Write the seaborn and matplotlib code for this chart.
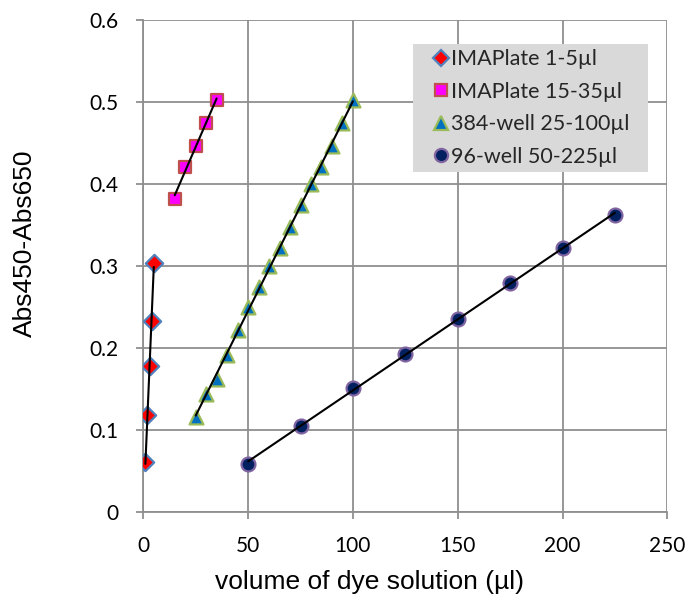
import numpy as np
import pandas as pd
import matplotlib
matplotlib.use("Agg")
import matplotlib.pyplot as plt
from matplotlib.lines import Line2D
from matplotlib.patches import Rectangle
import seaborn as sns

# Dilution series: dispensed volume (µl) and Abs450-Abs650
ima_small_vol = [1, 2, 3, 4, 5]
ima_small_abs = [0.061, 0.119, 0.178, 0.233, 0.304]

ima_large_vol = [15, 20, 25, 30, 35]
ima_large_abs = [0.382, 0.421, 0.447, 0.474, 0.503]

well384_vol = [25, 30, 35, 40, 45, 50, 55, 60, 65, 70, 75, 80, 85, 90, 95, 100]
well384_abs = [0.116, 0.144, 0.163, 0.192, 0.222, 0.250, 0.275, 0.300,
               0.322, 0.348, 0.375, 0.400, 0.421, 0.446, 0.474, 0.502]

well96_vol = [50, 75, 100, 125, 150, 175, 200, 225]
well96_abs = [0.059, 0.105, 0.151, 0.193, 0.236, 0.280, 0.322, 0.362]

series_names = ["IMAPlate 1-5µl", "IMAPlate 15-35µl",
                "384-well 25-100µl", "96-well 50-225µl"]

x_ticks = [0, 50, 100, 150, 200, 250]
y_ticks = [0, 0.1, 0.2, 0.3, 0.4, 0.5, 0.6]
y_tick_labels = ["0", "0.1", "0.2", "0.3", "0.4", "0.5", "0.6"]

sns.set_theme(style="white")
plt.rcParams["font.family"] = ["Lato", "DejaVu Sans"]

styles = [
    dict(marker="D", face="#ff0000", edge="#4f81bd", size=78),
    dict(marker="s", face="#ff00ff", edge="#c0504d", size=75),
    dict(marker="^", face="#0070c0", edge="#9bbb59", size=100),
    dict(marker="o", face="#002060", edge="#8064a2", size=100),
]
data = [
    (ima_small_vol, ima_small_abs),
    (ima_large_vol, ima_large_abs),
    (well384_vol, well384_abs),
    (well96_vol, well96_abs),
]

W, H = 688, 606
fig = plt.figure(figsize=(W / 100, H / 100), dpi=100)
ax = fig.add_axes([143.3 / W, 1 - 512.3 / H, (667.3 - 143.3) / W, (512.3 - 20) / H])

handles = []
for name, (vx, vy), st in zip(series_names, data, styles):
    df = pd.DataFrame({"vol": vx, "abs": vy})
    sns.scatterplot(data=df, x="vol", y="abs", ax=ax, marker=st["marker"],
                    s=st["size"], color=st["face"], edgecolor=st["edge"],
                    linewidth=1.6, zorder=3, legend=False)
    # least-squares trend line over the measured range
    sns.regplot(data=df, x="vol", y="abs", ax=ax, scatter=False, ci=None,
                truncate=True, line_kws=dict(color="black", lw=1.5, zorder=4))
    handles.append(Line2D([], [], linestyle="none", marker=st["marker"],
                          markerfacecolor=st["face"], markeredgecolor=st["edge"],
                          markeredgewidth=1.6, markersize=np.sqrt(st["size"]) * 0.95,
                          label=name))

grid_col = "#8f8f8f"
ax.set_xlim(0, 250)
ax.set_ylim(0, 0.6)
ax.set_xticks(x_ticks)
ax.set_yticks(y_ticks)
ax.set_yticklabels(y_tick_labels)
ax.grid(True, color=grid_col, linewidth=1.3)
ax.set_axisbelow(True)
for side in ["top", "right"]:
    ax.spines[side].set_visible(False)
for side in ["left", "bottom"]:
    ax.spines[side].set_color(grid_col)
    ax.spines[side].set_linewidth(1.3)
ax.tick_params(axis="both", which="major", direction="out", length=5,
               width=1.3, color=grid_col, labelsize=15, labelcolor="black")
ax.tick_params(axis="x", pad=12)
ax.tick_params(axis="y", pad=13)
ax.tick_params(bottom=True, left=True)

label_font = dict(family=["Liberation Sans", "DejaVu Sans"], size=19, color="black")
ax.set_xlabel("volume of dye solution (µl)", fontdict=label_font)
ax.set_ylabel("Abs450-Abs650", fontdict=label_font)
ax.xaxis.set_label_coords((369.5 - 143.3) / 524, -(570 - 512.3) / 492.3)
ax.yaxis.set_label_coords((37 - 143.3) / 524, (512.3 - 243.5) / 492.3)

# grey legend panel
ax.add_patch(Rectangle((412.7 / W, 1 - 171.7 / H), (648.3 - 412.7) / W, (171.7 - 44) / H,
                       transform=fig.transFigure, facecolor="#d9d9d9",
                       edgecolor="none", zorder=4.5, clip_on=False))

fs = 15.5
leg = ax.legend(handles=handles, loc="center left",
                bbox_to_anchor=(432.0 / W, 1 - 107.9 / H),
                bbox_transform=fig.transFigure, frameon=False,
                fontsize=fs, handlelength=0.8, handletextpad=0.1,
                borderpad=0, labelspacing=0.58, borderaxespad=0)
leg.set_zorder(6)

fig.savefig("out.png", dpi=100)
